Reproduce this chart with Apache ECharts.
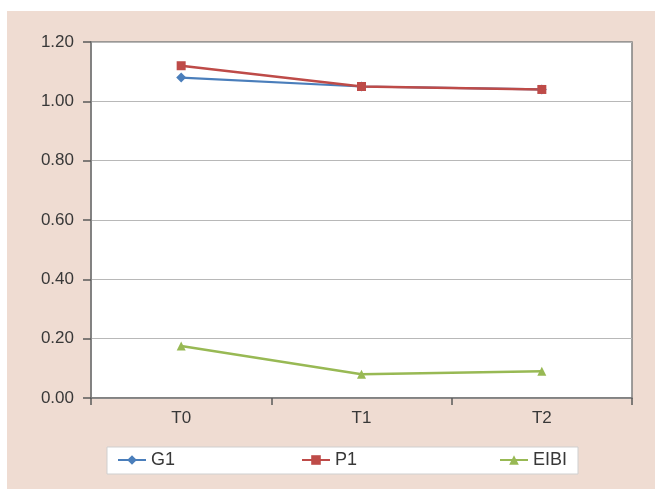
<!DOCTYPE html>
<html><head><meta charset="utf-8">
<script src="https://cdn.jsdelivr.net/npm/echarts@6/dist/echarts.min.js"></script>
<style>html,body{margin:0;padding:0;background:#fff}#c{width:655px;height:489px}</style>
</head><body><div id="c"></div>
<script>
const categories = ['T0', 'T1', 'T2'];
const g1 = [1.08, 1.05, 1.04];
const p1 = [1.12, 1.05, 1.04];
const eibi = [0.175, 0.08, 0.09];
const yTicks = [0, 0.2, 0.4, 0.6, 0.8, 1.0, 1.2];

const chart = echarts.init(document.getElementById('c'), null, {renderer: 'canvas'});
const font = 'Liberation Sans, Arial, sans-serif';
const textColor = '#383838';
function legendAt(name, left) {
  return {
    data: [name], left: left, top: 451, itemWidth: 28, itemHeight: 12, itemGap: 3,
    textStyle: {fontFamily: font, fontSize: 18, color: textColor}, padding: 0
  };
}
chart.setOption({
  animation: false,
  backgroundColor: '#ffffff',
  graphic: [
    {type: 'rect', shape: {x: 7, y: 11, width: 660, height: 490}, style: {fill: '#efdcd2'}, z: -10},
    {type: 'rect', shape: {x: 107, y: 447, width: 471, height: 27}, style: {fill: '#ffffff', stroke: '#cfcfcf', lineWidth: 1}, z: 0}
  ],
  legend: [legendAt('G1', 117), legendAt('P1', 301), legendAt('EIBI', 499)],
  grid: {left: 91, right: 23, top: 42, bottom: 91, show: true, backgroundColor: '#ffffff', borderColor: '#808080', borderWidth: 1.5},
  xAxis: {
    type: 'category', data: categories, boundaryGap: true,
    axisLine: {lineStyle: {color: '#7a7a7a', width: 1.5}},
    axisTick: {show: true, length: 7, lineStyle: {color: '#5a5a5a', width: 1.5}},
    axisLabel: {fontFamily: font, fontSize: 17, color: textColor, margin: 12},
    splitLine: {show: false}
  },
  yAxis: {
    type: 'value', min: 0, max: 1.2, interval: 0.2,
    axisLine: {show: true, lineStyle: {color: '#7a7a7a', width: 1.5}},
    axisTick: {show: true, length: 8, lineStyle: {color: '#5a5a5a', width: 1.5}},
    axisLabel: {fontFamily: font, fontSize: 17, color: textColor, margin: 17,
      formatter: v => v.toFixed(2)},
    splitLine: {lineStyle: {color: '#b8b8b8', width: 1.2}}
  },
  series: [
    {name: 'G1', type: 'line', data: g1, symbol: 'diamond', symbolSize: 10,
      itemStyle: {color: '#4a7ebb'}, lineStyle: {color: '#4a7ebb', width: 2.2}},
    {name: 'P1', type: 'line', data: p1, symbol: 'rect', symbolSize: 9,
      itemStyle: {color: '#be4b48'}, lineStyle: {color: '#be4b48', width: 2.5}},
    {name: 'EIBI', type: 'line', data: eibi, symbol: 'triangle', symbolSize: 9,
      itemStyle: {color: '#98b954'}, lineStyle: {color: '#98b954', width: 2.5}}
  ]
});
</script></body></html>
